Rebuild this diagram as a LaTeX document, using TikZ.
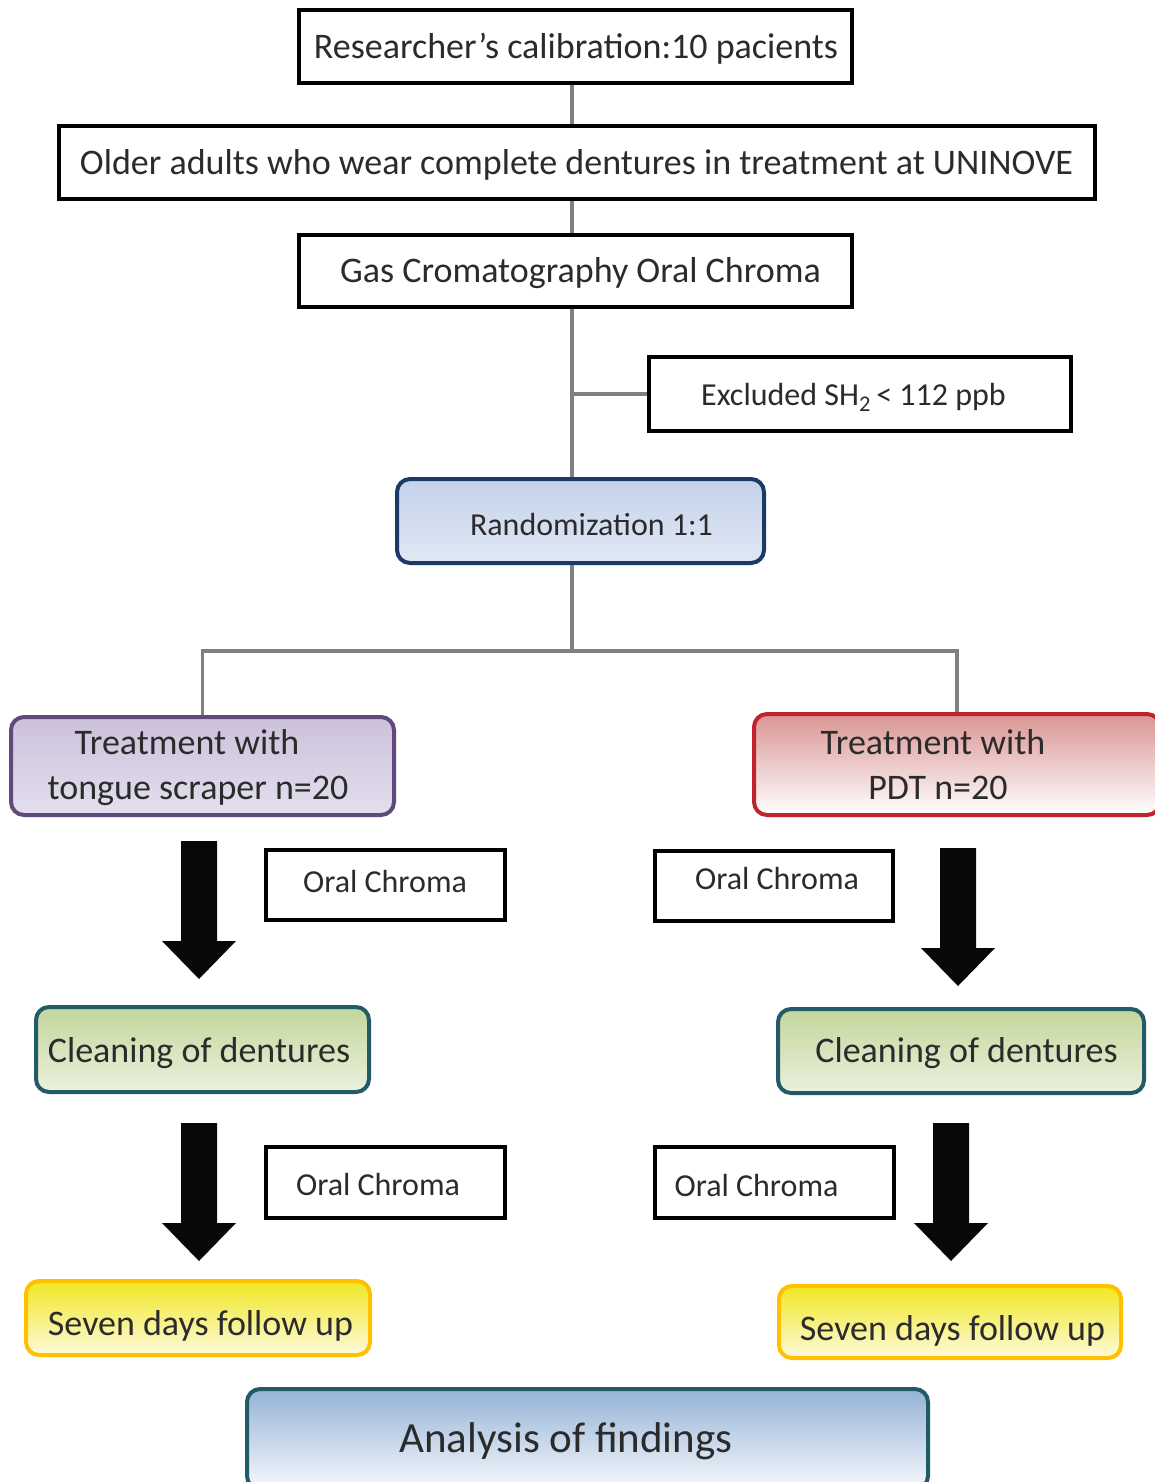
\documentclass[tikz,border=0pt]{standalone}
\usepackage{fontspec}
\setmainfont{Carlito}
\definecolor{txt}{HTML}{2B2B2B}
\definecolor{conngray}{HTML}{808080}
\definecolor{navy}{HTML}{1B3A66}
\definecolor{randtop}{HTML}{C5D2EA}
\definecolor{randbot}{HTML}{E0E8F4}
\definecolor{purp}{HTML}{604A7B}
\definecolor{purptop}{HTML}{CCC0DA}
\definecolor{purpbot}{HTML}{E3E0EE}
\definecolor{redb}{HTML}{C0232C}
\definecolor{redtop}{HTML}{D99593}
\definecolor{teal}{HTML}{235A68}
\definecolor{greentop}{HTML}{C3D69B}
\definecolor{greenbot}{HTML}{EBF1DE}
\definecolor{gold}{HTML}{FFC000}
\definecolor{yeltop}{HTML}{F1E722}
\definecolor{yelbot}{HTML}{FDFADC}
\definecolor{bluetop}{HTML}{95B3D7}
\definecolor{bluebot}{HTML}{F5F8FC}
\tikzset{
  plainbox/.style={draw=black, line width=3.5pt, fill=white, inner sep=0pt},
  roundbox/.style={rounded corners=13pt, line width=4pt, inner sep=0pt},
  lbl/.style={text=txt, inner sep=0pt, align=center},
  conn/.style={draw=conngray, line width=3.5pt},
  big/.style={font=\fontsize{36}{45}\selectfont},
  mid/.style={font=\fontsize{32}{40}\selectfont},
  huge/.style={font=\fontsize{43}{52}\selectfont},
  blockarrow/.pic={
    \fill[black!97] (-18,0) -- (18,0) -- (18,100) -- (37,100) -- (0,138) -- (-37,100) -- (-18,100) -- cycle;
  }
}
\begin{document}
\begin{tikzpicture}[x=1pt, y=-1pt]
\useasboundingbox (0,0) rectangle (1155,1482);
\coordinate (spine) at (572,0);

% top boxes
\node[plainbox, minimum width=553, minimum height=73] (calib) at (575.5,46.5) {};
\node[lbl, big] (calibT) at (576,49) {Researcher’s calibration:10 pacients};
\node[plainbox, minimum width=1036, minimum height=73] (older) at (577,162.5) {};
\node[lbl, big] (olderT) at (576.5,165) {Older adults who wear complete dentures in treatment at UNINOVE};
\node[plainbox, minimum width=553, minimum height=72] (gas) at (575.5,271) {};
\node[lbl, big] (gasT) at (580.5,273) {Gas Cromatography Oral Chroma};
\node[plainbox, minimum width=422, minimum height=74] (excl) at (860,394) {};
\node[lbl, mid] (exclT) at (853.5,397) {Excluded SH\textsubscript{2}\,< 112 ppb};

% randomization
\node[roundbox, draw=navy, top color=randtop, bottom color=randbot, minimum width=367, minimum height=84] (rand) at (580.5,521) {};
\node[lbl, mid] (randT) at (591.5,525) {Randomization 1:1};

% treatment boxes
\node[roundbox, draw=purp, top color=purptop, bottom color=purpbot, minimum width=383, minimum height=98] (tongue) at (202.5,766) {};
\node[lbl, big] (tongueT) at (198,768) {\hspace*{-22pt}Treatment with\\tongue scraper n=20};
\node[roundbox, draw=redb, top color=redtop, bottom color=white, minimum width=406, minimum height=101] (pdt) at (957,764.5) {};
\node[lbl, big] (pdtT) at (933,765) {Treatment with\\\hspace*{10pt}PDT n=20};

% connectors
\draw[conn] (calib.south -| spine) -- (older.north -| spine);
\draw[conn] (older.south -| spine) -- (gas.north -| spine);
\draw[conn] (gas.south -| spine) -- (rand.north -| spine);
\draw[conn] (excl.west -| spine) -- (excl.west);
\coordinate (split) at (572,651);
\draw[conn] (rand.south -| spine) -- (split);
\draw[conn] (tongue.north) -- (tongue.north |- split) -- (pdt.north |- split) -- (pdt.north);

% oral chroma boxes
\node[plainbox, minimum width=239, minimum height=70] (oc1) at (385.5,885) {};
\node[lbl, mid] (oc1T) at (385,881) {Oral Chroma};
\node[plainbox, minimum width=238, minimum height=70] (oc2) at (774,886) {};
\node[lbl, mid] (oc2T) at (777,878) {Oral Chroma};
\node[plainbox, minimum width=239, minimum height=71] (oc3) at (385.5,1182.5) {};
\node[lbl, mid] (oc3T) at (378,1184.5) {Oral Chroma};
\node[plainbox, minimum width=239, minimum height=71] (oc4) at (774.5,1182.5) {};
\node[lbl, mid] (oc4T) at (756.5,1185.5) {Oral Chroma};

% cleaning boxes
\node[roundbox, draw=teal, top color=greentop, bottom color=greenbot, minimum width=333, minimum height=85] (clean1) at (202.5,1049.5) {};
\node[lbl, big] (clean1T) at (199,1053.5) {Cleaning of dentures};
\node[roundbox, draw=teal, top color=greentop, bottom color=greenbot, minimum width=366, minimum height=84] (clean2) at (961,1051) {};
\node[lbl, big] (clean2T) at (966.5,1053) {Cleaning of dentures};

% follow-up boxes
\node[roundbox, draw=gold, top color=yeltop, bottom color=yelbot, minimum width=344, minimum height=74] (seven1) at (198,1318) {};
\node[lbl, big] (seven1T) at (200.5,1326) {Seven days follow up};
\node[roundbox, draw=gold, top color=yeltop, bottom color=yelbot, minimum width=342, minimum height=72] (seven2) at (950,1322) {};
\node[lbl, big] (seven2T) at (952.5,1331) {Seven days follow up};

% analysis
\node[roundbox, draw=teal, top color=bluetop, bottom color=bluebot, minimum width=681, minimum height=100] (anal) at (587.5,1439) {};
\node[lbl, huge] (analT) at (566,1441) {Analysis of findings};

% block arrows
\pic at (199,841) {blockarrow};
\pic at (958,848) {blockarrow};
\pic at (199,1123) {blockarrow};
\pic at (951,1123) {blockarrow};
\end{tikzpicture}
\end{document}
